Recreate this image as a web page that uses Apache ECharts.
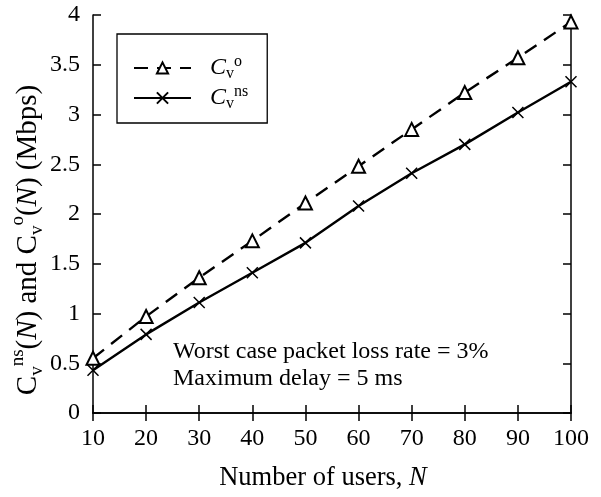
<!DOCTYPE html>
<html>
<head>
<meta charset="utf-8">
<script src="https://cdn.jsdelivr.net/npm/echarts@6/dist/echarts.min.js"></script>
<style>
  html, body { margin: 0; padding: 0; background: #fff; }
  #chart { width: 601px; height: 497px; }
</style>
</head>
<body>
<div id="chart"></div>
<script>
const users = [10, 20, 30, 40, 50, 60, 70, 80, 90, 100]
const cvO = [0.55, 0.97, 1.36, 1.73, 2.11, 2.48, 2.85, 3.22, 3.57, 3.93]
const cvNs = [0.43, 0.79, 1.11, 1.41, 1.71, 2.08, 2.41, 2.70, 3.02, 3.33]
const notes = ['Worst case packet loss rate = 3%', 'Maximum delay = 5 ms']

const font = 'Liberation Serif, Times New Roman, serif'
const fs = 24

// rich text styles for the C_v^x labels
const makeRich = (size, lh, cStyle) => {
  const small = Math.round(size * 0.67)
  return {
    c: { fontFamily: font, fontSize: size, fontStyle: cStyle, color: '#000', lineHeight: lh },
    sub: { fontFamily: font, fontSize: small, color: '#000', lineHeight: small, verticalAlign: 'bottom' },
    sup: { fontFamily: font, fontSize: small, color: '#000', lineHeight: small, verticalAlign: 'top' },
    i: { fontFamily: font, fontSize: size, fontStyle: 'italic', color: '#000', lineHeight: lh },
    t: { fontFamily: font, fontSize: size, color: '#000', lineHeight: lh }
  }
}

const axisCommon = {
  axisLine: { lineStyle: { color: '#000', width: 1.5 } },
  axisTick: { inside: true, length: 8, lineStyle: { color: '#000', width: 1.5 } },
  splitLine: { show: false },
  axisLabel: { color: '#000', fontFamily: font, fontSize: fs }
}

const chart = echarts.init(document.getElementById('chart'))
chart.setOption({
  animation: false,
  backgroundColor: '#fff',
  grid: { left: 93, right: 30, top: 15, bottom: 84, outerBoundsMode: 'none' },
  xAxis: [{
    type: 'value', min: 10, max: 100, interval: 10,
    ...axisCommon,
    axisLabel: { ...axisCommon.axisLabel, margin: 14 },
    name: '{t|Number of users, }{i|N}',
    nameLocation: 'middle', nameGap: 50,
    nameTextStyle: { color: '#000', fontFamily: font, fontSize: 26.5, padding: [0, 18, 0, 0], rich: makeRich(26.5, 30, 'italic') }
  }, {
    type: 'value', position: 'top', min: 10, max: 100, interval: 10,
    ...axisCommon, axisLabel: { show: false }
  }],
  yAxis: [{
    type: 'value', min: 0, max: 4, interval: 0.5,
    ...axisCommon,
    axisLabel: { ...axisCommon.axisLabel, margin: 13 },
    name: '{c|C}{sub|v}{sup|ns}{t|(}{i|N}{t|) and }{c|C}{sub|v}{sup|o}{t|(}{i|N}{t|) (Mbps)}',
    nameLocation: 'middle', nameGap: 46, nameRotate: 90, nameMoveOverlap: false,
    nameTextStyle: { color: '#000', fontFamily: font, fontSize: 29, padding: [0, 52, 0, 0], rich: makeRich(29, 38, 'normal') }
  }, {
    type: 'value', position: 'right', min: 0, max: 4, interval: 0.5,
    ...axisCommon, axisLabel: { show: false }
  }],
  legend: {
    orient: 'vertical', left: 117, top: 34,
    borderColor: '#000', borderWidth: 1.3, borderRadius: 0,
    padding: [20, 19, 11, 16], itemGap: 2,
    itemWidth: 57, itemHeight: 14,
    textStyle: { color: '#000', fontFamily: font, fontSize: fs, rich: makeRich(fs, 28, 'italic'), padding: [0, 0, 0, 14] },
    formatter: name => name === 'o' ? '{c|C}{sub|v}{sup|o}' : '{c|C}{sub|v}{sup|ns}',
    data: ['o', 'ns']
  },
  graphic: [{
    type: 'text', left: 173, top: 338,
    style: { text: notes.join('\n'), font: fs + 'px ' + font, fill: '#000', lineHeight: 27 }
  }],
  series: [{
    name: 'o', type: 'line',
    data: users.map((n, k) => [n, cvO[k]]),
    symbol: 'emptyTriangle', symbolSize: 13,
    lineStyle: { color: '#000', width: 2.4, type: [14, 9] },
    itemStyle: { color: '#000', borderColor: '#000', borderWidth: 1.5 }
  }, {
    name: 'ns', type: 'line',
    data: users.map((n, k) => [n, cvNs[k]]),
    symbol: 'path://M0,0L10,10M10,0L0,10', symbolSize: 11,
    lineStyle: { color: '#000', width: 2.4 },
    itemStyle: { color: '#000', borderColor: '#000', borderWidth: 1.5 }
  }]
})
</script>
</body>
</html>
